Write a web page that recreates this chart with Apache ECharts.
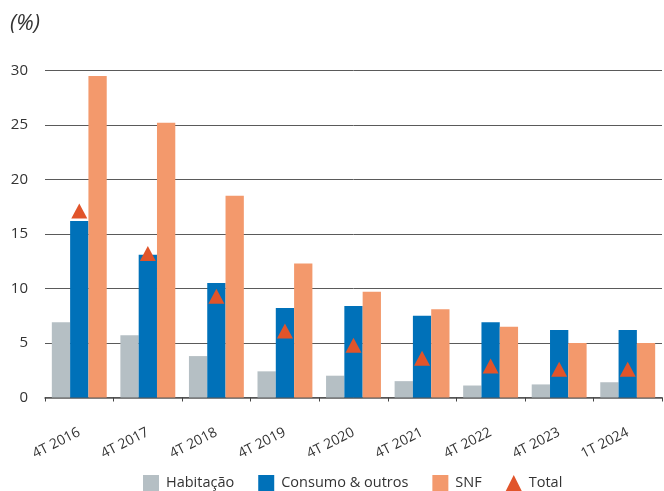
<!DOCTYPE html>
<html>
<head>
<meta charset="utf-8">
<script src="https://cdn.jsdelivr.net/npm/echarts@6/dist/echarts.min.js"></script>
<style>
html,body{margin:0;padding:0;background:#fff;}
#c{width:664px;height:491px;}
</style>
</head>
<body>
<div id="c"></div>
<script>
const categories = ['4T 2016','4T 2017','4T 2018','4T 2019','4T 2020','4T 2021','4T 2022','4T 2023','1T 2024'];
const habitacao = [6.9, 5.7, 3.8, 2.4, 2.0, 1.5, 1.1, 1.2, 1.4];
const consumo = [16.2, 13.1, 10.5, 8.2, 8.4, 7.5, 6.9, 6.2, 6.2];
const snf = [29.5, 25.2, 18.5, 12.3, 9.7, 8.1, 6.5, 5.0, 5.0];
const total = [17.1, 13.2, 9.3, 6.1, 4.8, 3.6, 2.9, 2.6, 2.6];
const yTicks = [0, 5, 10, 15, 20, 25, 30];

const FONT = '"Open Sans", "Noto Sans", sans-serif';
const chart = echarts.init(document.getElementById('c'), null, {renderer: 'canvas'});
chart.setOption({
  animation: false,
  backgroundColor: '#ffffff',
  textStyle: {fontFamily: FONT},
  graphic: [{
    type: 'text', left: 10, top: 13,
    style: {text: '(%)', font: 'italic 22px ' + FONT, fill: '#333'}
  }],
  legend: {
    bottom: 0, left: 143, padding: 0,
    itemWidth: 16, itemHeight: 16, itemGap: 24,
    textStyle: {fontSize: 14.5, color: '#333', fontFamily: FONT, padding: [0, 0, 0, 2]},
    data: [
      {name: 'Habitação', icon: 'rect'},
      {name: 'Consumo & outros', icon: 'rect'},
      {name: 'SNF', icon: 'rect'},
      {name: 'Total', icon: 'triangle'}
    ]
  },
  grid: {left: 45, right: 2, top: 70.5, bottom: 93.5, containLabel: false, outerBoundsMode: 'none'},
  xAxis: {
    type: 'category',
    data: categories,
    axisLine: {show: true, lineStyle: {color: '#555', width: 1.5}},
    axisTick: {show: true, length: 4, lineStyle: {color: '#444'}},
    axisLabel: {rotate: 27, fontSize: 14, color: '#333', margin: 34, fontFamily: FONT}
  },
  yAxis: {
    type: 'value',
    min: yTicks[0], max: yTicks[yTicks.length - 1], interval: 5,
    axisLine: {show: false},
    axisTick: {show: false},
    axisLabel: {fontSize: 15, color: '#333', margin: 17, fontFamily: FONT},
    splitLine: {lineStyle: {color: '#5a5a5a', width: 1}}
  },
  series: [
    {name: 'Habitação', type: 'bar', data: habitacao, barWidth: 18.3, barGap: '0%',
     itemStyle: {color: '#b5bfc4'}},
    {name: 'Consumo & outros', type: 'bar', data: consumo, barWidth: 18.3, barGap: '0%',
     itemStyle: {color: '#0071b9'}},
    {name: 'SNF', type: 'bar', data: snf, barWidth: 18.3, barGap: '0%',
     itemStyle: {color: '#f3996c'}},
    {name: 'Total', type: 'scatter', data: total, symbol: 'triangle', symbolSize: [16, 15],
     itemStyle: {color: '#e1542a', opacity: 1}, z: 5}
  ]
});
</script>
</body>
</html>
